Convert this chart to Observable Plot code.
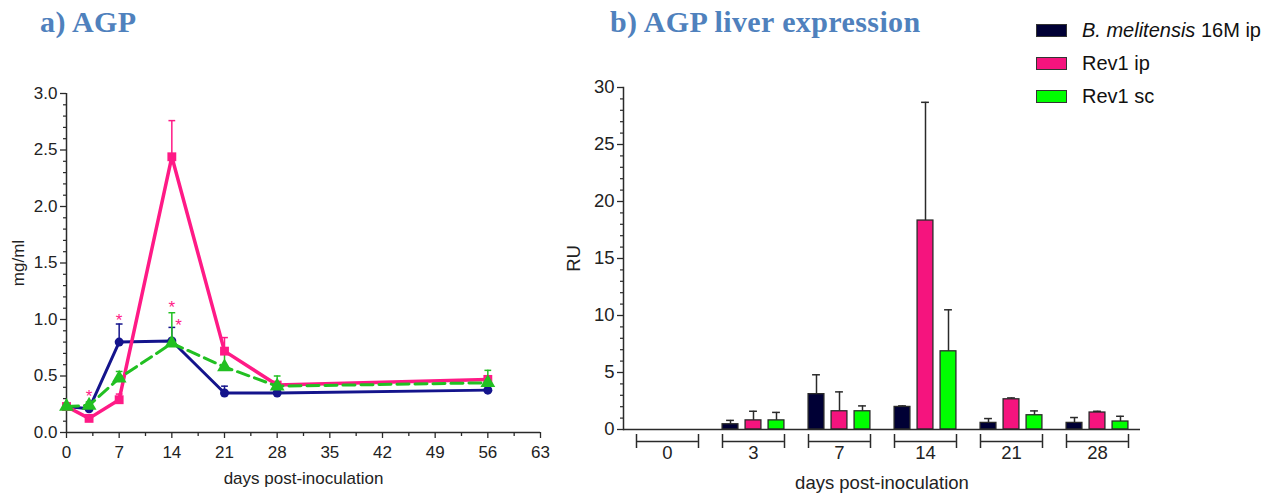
<!DOCTYPE html>
<html><head><meta charset="utf-8">
<script src="https://cdn.jsdelivr.net/npm/d3@7"></script>
<script src="https://cdn.jsdelivr.net/npm/@observablehq/plot@0.6"></script>
<style>
body{margin:0;background:#fff;width:1276px;height:493px;position:relative;overflow:hidden;font-family:"Liberation Sans",Arial,sans-serif;}
#a{position:absolute;left:0;top:0;}
#b{position:absolute;left:560px;top:0;}
.title{position:absolute;top:5px;font-family:"Liberation Serif",serif;font-weight:bold;font-size:30px;letter-spacing:0.4px;color:#4f81bd;white-space:nowrap;}
.row{position:absolute;left:1036px;height:14px;display:flex;align-items:center;font-size:20px;color:#111;white-space:nowrap;}
.sw{box-sizing:border-box;width:31px;height:13px;border:1.5px solid #333;margin-right:15px;}
</style></head><body>
<div id="a"></div><div id="b"></div>
<div class="title" style="left:40px">a) AGP</div>
<div class="title" style="left:610px">b) AGP liver expression</div>
<div id="legend"></div>
<script>
// ---------- data ----------
const series = ["B. melitensis 16M ip", "Rev1 ip", "Rev1 sc"];
// a) AGP serum (mg/ml)
const agpDays = [0, 3, 7, 14, 21, 28, 56];
const agpB = [0.23, 0.21, 0.80, 0.81, 0.35, 0.35, 0.375];
const agpBUpper = [null, 0.22, 0.96, 0.93, 0.41, 0.37, 0.39];
const agpP = [0.23, 0.125, 0.29, 2.44, 0.72, 0.42, 0.47];
const agpPUpper = [0.25, null, 0.34, 2.76, 0.84, 0.44, 0.50];
const agpG = [0.23, 0.24, 0.48, 0.79, 0.58, 0.41, 0.44];
const agpGUpper = [0.26, 0.27, 0.54, 1.06, 0.74, 0.50, 0.55];
const starDays = [3, 7, 14, 14.9];
const starValues = [0.35, 1.03, 1.14, 0.98];
const xTicksA = [0, 7, 14, 21, 28, 35, 42, 49, 56, 63];
const yTicksA = [0, 0.5, 1.0, 1.5, 2.0, 2.5, 3.0];
// b) liver expression (RU)
const ruDays = ["0", "3", "7", "14", "21", "28"];
const ruB = [0, 0.46, 3.1, 1.98, 0.58, 0.58];
const ruBUpper = [0, 0.8, 4.8, 2.07, 0.96, 1.05];
const ruP = [0, 0.8, 1.6, 18.33, 2.65, 1.49];
const ruPUpper = [0, 1.6, 3.3, 28.7, 2.77, 1.6];
const ruG = [0, 0.8, 1.6, 6.86, 1.25, 0.7];
const ruGUpper = [0, 1.5, 2.07, 10.5, 1.63, 1.16];
const yTicksB = [0, 5, 10, 15, 20, 25, 30];

// ---------- styles ----------
const lineColors = ["#14148c", "#ff1a86", "#22c022"];
const barColors = ["#000035", "#f5147e", "#00ff00"];
const symbols = ["circle", "square", "triangle"];
const dotR = [4.5, 5, 5.5];
const dashes = [null, null, "12,6"];

// ---------- build tables ----------
const agpVals = [agpB, agpP, agpG], agpUps = [agpBUpper, agpPUpper, agpGUpper];
const agp = series.map((s, i) => agpDays.map((d, j) => ({series: s, day: d, value: agpVals[i][j], upper: agpUps[i][j]})));
const stars = starDays.map((d, i) => ({day: d, value: starValues[i]}));
const ruVals = [ruB, ruP, ruG], ruUps = [ruBUpper, ruPUpper, ruGUpper];
const ru = series.map((s, i) => ruDays.map((d, j) => ({series: s, day: d, value: ruVals[i][j], upper: ruUps[i][j]})).filter(d => d.value > 0));

const axisColor = "#2a2a2a";
const font = "Liberation Sans, Arial, sans-serif";

// ---------- chart a ----------
const fsA = 17;
const marksA = [
  Plot.ruleY([0], {stroke: axisColor, strokeWidth: 1.5}),
  Plot.ruleX([0], {stroke: axisColor, strokeWidth: 1.5}),
  Plot.axisX({ticks: xTicksA, tickSize: 6, tickPadding: 7, stroke: axisColor, strokeWidth: 1.3, fontSize: fsA,
    label: "days post-inoculation", labelAnchor: "center", labelArrow: "none", labelOffset: 51}),
  Plot.axisX({ticks: d3.range(3.5, 63, 7), tickSize: 4, text: null, label: null, stroke: axisColor, strokeWidth: 1.3}),
  Plot.axisY({ticks: yTicksA, tickFormat: d3.format(".1f"), tickSize: 6, tickPadding: 3, stroke: axisColor, strokeWidth: 1.3, fontSize: fsA,
    label: "mg/ml", labelAnchor: "center", labelArrow: "none", labelOffset: 55}),
  Plot.axisY({ticks: d3.range(0, 30).map(v => v / 10).filter(v => Math.round(v * 10) % 5 !== 0), tickSize: 3, text: null, label: null, stroke: axisColor, strokeWidth: 1.2})
];
agp.forEach((rows, i) => {
  const withErr = rows.filter(d => d.upper != null);
  marksA.push(
    Plot.ruleX(withErr, {x: "day", y1: "value", y2: "upper", stroke: lineColors[i], strokeWidth: 1.5}),
    Plot.link(withErr, {x1: d => d.day - 0.45, x2: d => d.day + 0.45, y1: "upper", y2: "upper", stroke: lineColors[i], strokeWidth: 1.5})
  );
});
agp.forEach((rows, i) => {
  marksA.push(
    Plot.line(rows, {x: "day", y: "value", stroke: lineColors[i], strokeWidth: i === 1 ? 3.5 : 3, strokeDasharray: dashes[i]}),
    Plot.dot(rows, {x: "day", y: "value", symbol: () => symbols[i], fill: lineColors[i], r: dotR[i], stroke: "none"})
  );
});
marksA.push(Plot.text(stars, {x: "day", y: "value", text: () => "*", fill: lineColors[1], fontSize: 17, dy: 4}));

const chartA = Plot.plot({
  width: 560, height: 493, marginLeft: 66, marginRight: 20, marginTop: 93, marginBottom: 61,
  style: {background: "transparent", fontFamily: font, fontSize: fsA + "px", color: "#222"},
  x: {domain: [0, 63]}, y: {domain: [0, 3]},
  symbol: {domain: symbols, range: symbols},
  marks: marksA
});
document.getElementById("a").append(chartA);

// ---------- chart b ----------
const W = 716, mL = 63, mR = 136;
const fsB = 18.5;
const bw = (W - mL - mR) / ruDays.length;
const offsets = [-23, 0, 23], barW = 16, capW = 4, half = 31;
const marksB = [
  Plot.axisX({tickSize: 0, tickPadding: 16, fontSize: fsB,
    label: "days post-inoculation", labelAnchor: "center", labelArrow: "none", labelOffset: 59}),
  Plot.axisY({ticks: yTicksB, tickSize: 6, tickPadding: 3, stroke: axisColor, strokeWidth: 1.3, fontSize: fsB,
    label: "RU", labelAnchor: "center", labelArrow: "none", labelOffset: 57}),
  Plot.axisY({ticks: d3.range(0, 30).filter(v => v % 5 !== 0), tickSize: 3, text: null, label: null, stroke: axisColor, strokeWidth: 1.2}),
  Plot.frame({anchor: "left", stroke: axisColor, strokeWidth: 1.5}),
  // group brackets under the axis
  Plot.tickY(ruDays, {x: d => d, y: () => 0, dy: 12, insetLeft: bw / 2 - half, insetRight: bw / 2 - half, stroke: axisColor, strokeWidth: 1.5}),
  Plot.ruleX(ruDays, {x: d => d, y1: () => 0, y2: () => 0, dx: -half, dy: 12, insetTop: -7, insetBottom: -7, stroke: axisColor, strokeWidth: 1.5}),
  Plot.ruleX(ruDays, {x: d => d, y1: () => 0, y2: () => 0, dx: half, dy: 12, insetTop: -7, insetBottom: -7, stroke: axisColor, strokeWidth: 1.5})
];
ru.forEach((rows, i) => {
  const o = offsets[i];
  marksB.push(
    Plot.ruleX(rows, {x: "day", y1: "value", y2: "upper", dx: o, stroke: axisColor, strokeWidth: 1.5}),
    Plot.tickY(rows, {x: "day", y: "upper", insetLeft: bw / 2 + o - capW, insetRight: bw / 2 - o - capW, stroke: axisColor, strokeWidth: 1.5}),
    Plot.barY(rows, {x: "day", y: "value", fill: barColors[i], stroke: axisColor, strokeWidth: 1.3,
      insetLeft: bw / 2 + o - barW / 2, insetRight: bw / 2 - o - barW / 2})
  );
});
marksB.push(Plot.ruleY([0], {stroke: axisColor, strokeWidth: 1.5}));

const chartB = Plot.plot({
  width: W, height: 493, marginLeft: mL, marginRight: mR, marginTop: 87, marginBottom: 64,
  style: {background: "transparent", fontFamily: font, fontSize: fsB + "px", color: "#222"},
  x: {domain: ruDays, type: "band", padding: 0}, y: {domain: [0, 30]},
  marks: marksB
});
document.getElementById("b").append(chartB);

// ---------- legend ----------
const legendTops = [23, 56, 89];
const leg = document.getElementById("legend");
series.forEach((s, i) => {
  const row = document.createElement("div");
  row.className = "row";
  row.style.top = legendTops[i] + "px";
  const sw = document.createElement("div");
  sw.className = "sw";
  sw.style.background = barColors[i];
  const label = document.createElement("span");
  if (i === 0) {
    const it = document.createElement("i");
    it.textContent = "B. melitensis";
    label.append(it, " 16M ip");
  } else label.textContent = s;
  row.append(sw, label);
  leg.append(row);
});
</script>
</body></html>
